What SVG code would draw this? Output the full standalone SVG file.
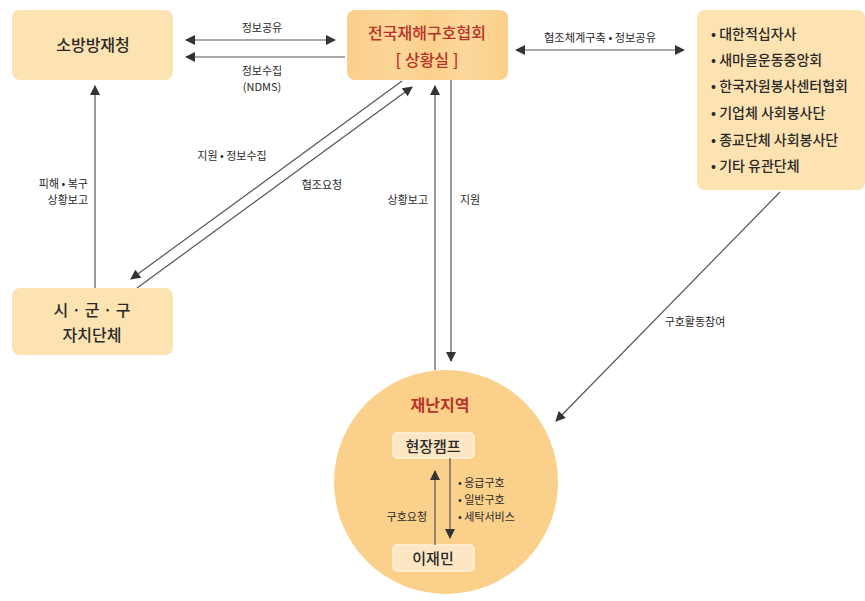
<svg xmlns="http://www.w3.org/2000/svg" width="865" height="601" viewBox="0 0 865 601">
<style>
text{font-family:"Noto Sans CJK KR","Liberation Sans",sans-serif;fill:#2a2a2a}
.node{font-size:16px;font-weight:500}
.red{fill:#b8322a}
.list{font-size:14px;font-weight:500}
.lbl{font-size:11px}
.ln{stroke:#555;stroke-width:1.2;fill:none}
</style>
<defs>
<marker id="ah" viewBox="0 0 10 10" refX="9" refY="5" markerWidth="13" markerHeight="10" markerUnits="userSpaceOnUse" orient="auto-start-reverse">
<path d="M0,0 L10,5 L0,10 z" fill="#333"/>
</marker>
<linearGradient id="gc" x1="0" y1="0" x2="1" y2="0">
<stop offset="0" stop-color="#fbd08c"/>
<stop offset="0.35" stop-color="#fcd598"/>
<stop offset="0.5" stop-color="#fbd08a"/>
<stop offset="0.75" stop-color="#fcd89c"/>
<stop offset="1" stop-color="#fbcf88"/>
</linearGradient>
</defs>
<rect width="865" height="601" fill="#fff"/>
<g id="connectors">
<line class="ln" x1="186" y1="40" x2="335" y2="40" marker-start="url(#ah)" marker-end="url(#ah)"/>
<line class="ln" x1="345" y1="57" x2="186" y2="57" marker-end="url(#ah)"/>
<line class="ln" x1="516" y1="50" x2="684" y2="50" marker-start="url(#ah)" marker-end="url(#ah)"/>
<line class="ln" x1="95" y1="288" x2="95" y2="86" marker-end="url(#ah)"/>
<line class="ln" x1="402" y1="81" x2="131" y2="279" marker-end="url(#ah)"/>
<line class="ln" x1="137" y1="288" x2="412" y2="87" marker-end="url(#ah)"/>
<line class="ln" x1="435" y1="370" x2="435" y2="86" marker-end="url(#ah)"/>
<line class="ln" x1="451" y1="80" x2="451" y2="361" marker-end="url(#ah)"/>
<line class="ln" x1="780" y1="192" x2="556" y2="421" marker-end="url(#ah)"/>
<text class="lbl" x="262" y="32" text-anchor="middle">정보공유</text>
<text class="lbl" x="262" y="75" text-anchor="middle">정보수집</text>
<text class="lbl" x="262" y="91" text-anchor="middle">(NDMS)</text>
<text class="lbl" x="600" y="42" text-anchor="middle" textLength="112" lengthAdjust="spacingAndGlyphs">협조체계구축 • 정보공유</text>
<text class="lbl" x="88" y="188" text-anchor="end">피해 • 복구</text>
<text class="lbl" x="88" y="204" text-anchor="end">상황보고</text>
<text class="lbl" x="232" y="160" text-anchor="middle">지원 • 정보수집</text>
<text class="lbl" x="322" y="189" text-anchor="middle">협조요청</text>
<text class="lbl" x="428" y="204" text-anchor="end">상황보고</text>
<text class="lbl" x="460" y="204">지원</text>
<text class="lbl" x="695" y="326" text-anchor="middle">구호활동참여</text>
</g>
<g id="fire">
<rect x="12" y="10" width="161" height="70" rx="8" fill="#fde2b2"/>
<text class="node" x="93" y="51" text-anchor="middle">소방방재청</text>
</g>
<g id="assoc">
<rect x="347" y="10" width="161" height="70" rx="8" fill="url(#gc)"/>
<text class="node red" x="427" y="39" text-anchor="middle">전국재해구호협회</text>
<text class="node red" x="427" y="66" text-anchor="middle">[ 상황실 ]</text>
</g>
<g id="orgs">
<rect x="697" y="10" width="168" height="180" rx="8" fill="#fde2b2"/>
<text class="list" x="711" y="39">• 대한적십자사</text>
<text class="list" x="711" y="65">• 새마을운동중앙회</text>
<text class="list" x="711" y="91">• 한국자원봉사센터협회</text>
<text class="list" x="711" y="118">• 기업체 사회봉사단</text>
<text class="list" x="711" y="145">• 종교단체 사회봉사단</text>
<text class="list" x="711" y="171">• 기타 유관단체</text>
</g>
<g id="local">
<rect x="12" y="288" width="161" height="67" rx="8" fill="#fde2b2"/>
<text class="node" x="92" y="316" text-anchor="middle">시 · 군 · 구</text>
<text class="node" x="92" y="341" text-anchor="middle">자치단체</text>
</g>
<g id="area">
<circle cx="446" cy="482" r="112" fill="#fbd08a"/>
<text class="node red" x="440" y="411" text-anchor="middle" style="font-weight:700">재난지역</text>
</g>
<g id="camp">
<rect x="393" y="433" width="81" height="25" rx="4" fill="#fde6c3" stroke="#fff3e0" stroke-width="1.5"/>
<text class="node" x="433" y="452" text-anchor="middle" style="font-size:15px">현장캠프</text>
</g>
<g id="victims">
<rect x="393" y="545" width="81" height="26" rx="4" fill="#fde6c3" stroke="#fff3e0" stroke-width="1.5"/>
<text class="node" x="433" y="564" text-anchor="middle" style="font-size:15px">이재민</text>
</g>
<g id="inner-connectors">
<line class="ln" x1="435" y1="545" x2="435" y2="471" marker-end="url(#ah)"/>
<line class="ln" x1="450" y1="458" x2="450" y2="538" marker-end="url(#ah)"/>
<text class="lbl" x="427" y="521" text-anchor="end">구호요청</text>
<text class="lbl" x="458" y="487">• 응급구호</text>
<text class="lbl" x="458" y="504">• 일반구호</text>
<text class="lbl" x="458" y="521">• 세탁서비스</text>
</g>
</svg>
